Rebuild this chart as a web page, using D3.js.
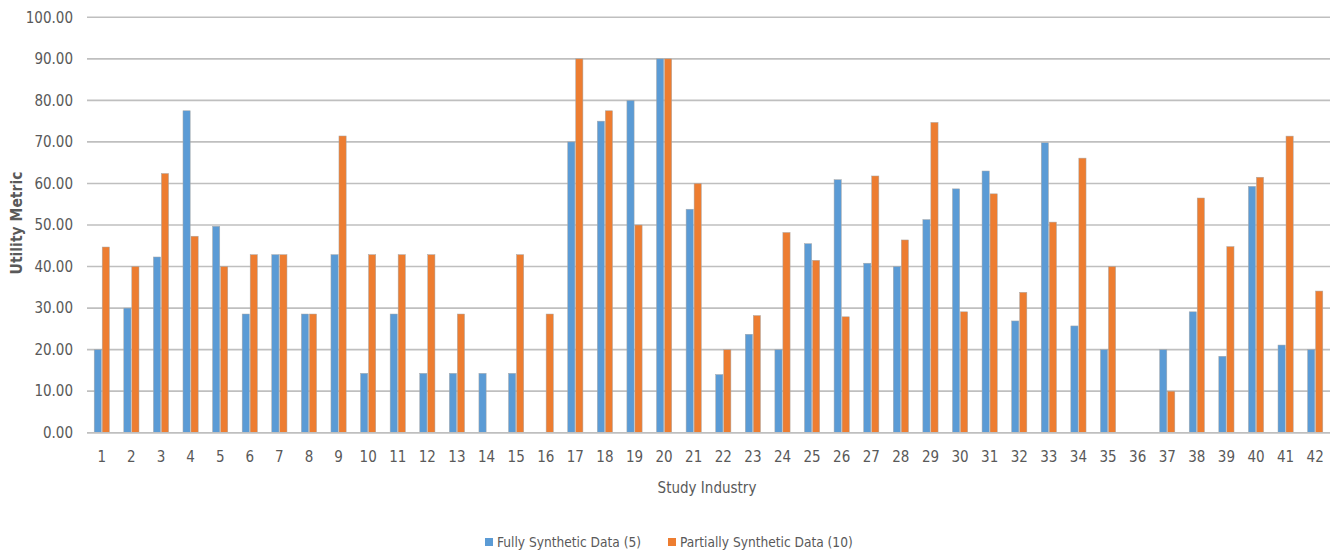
<!DOCTYPE html>
<html>
<head>
<meta charset="utf-8">
<script src="https://cdn.jsdelivr.net/npm/d3@7"></script>
<style>
  html, body { margin: 0; padding: 0; background: #fff; }
  svg { display: block; }
  text { font-family: "Liberation Sans Narrow", "DejaVu Sans Condensed", "Liberation Sans", sans-serif; fill: #595959; }
</style>
</head>
<body>
<svg id="chart" width="1336" height="552"></svg>
<script>
const categories = d3.range(1, 43).map(String);
const seriesNames = ["Fully Synthetic Data (5)", "Partially Synthetic Data (10)"];
const fullySynthetic = [20, 30, 42.3, 77.5, 49.7, 28.57, 42.86, 28.57, 42.86, 14.29,
  28.57, 14.29, 14.29, 14.29, 14.29, 0, 70, 75, 80, 90,
  53.8, 14, 23.7, 20, 45.5, 60.9, 40.8, 40, 51.3, 58.7,
  63, 26.9, 69.8, 25.7, 20, 0, 20, 29.1, 18.4, 59.3,
  21.1, 20];
const partiallySynthetic = [44.7, 40, 62.4, 47.3, 40, 42.86, 42.86, 28.57, 71.43, 42.86,
  42.86, 42.86, 28.57, 0, 42.86, 28.57, 90, 77.5, 50, 90,
  60, 20, 28.2, 48.2, 41.5, 27.9, 61.8, 46.4, 74.7, 29.1,
  57.5, 33.8, 50.7, 66.1, 40, 0, 10, 56.5, 44.8, 61.5,
  71.4, 34.1];
const yTicks = [0, 10, 20, 30, 40, 50, 60, 70, 80, 90, 100];
const colors = ["#5B9BD5", "#ED7D31"];

const svg = d3.select("#chart");
const mLeft = 87, mRight = 1330, mTop = 17.3, mBottom = 432.7;

const x = d3.scaleBand().domain(categories).range([mLeft, mRight]).padding(0);
const y = d3.scaleLinear().domain([0, 100]).range([mBottom, mTop]);
const xs = d3.scaleBand().domain([0, 1]).range([-7.6, 7.6]).paddingInner(0.1);

// gridlines
svg.append("g").selectAll("line").data(yTicks).join("line")
  .attr("x1", mLeft).attr("x2", mRight)
  .attr("y1", d => y(d)).attr("y2", d => y(d))
  .attr("stroke", "#BFBFBF").attr("stroke-width", 1.6);

// y labels
const yAxis = d3.axisLeft(y).tickValues(yTicks).tickFormat(d3.format(".2f")).tickSize(0).tickPadding(0);
const yg = svg.append("g").attr("transform", `translate(${73},0)`).call(yAxis);
yg.select(".domain").remove();
yg.selectAll("text").attr("font-size", 15).attr("fill", "#595959")
  .style("font-family", '"Liberation Sans Narrow", "DejaVu Sans Condensed", sans-serif');

// bars
const data = [fullySynthetic, partiallySynthetic];
data.forEach((vals, si) => {
  svg.append("g").selectAll("rect").data(vals).join("rect")
    .attr("x", (d, i) => x(categories[i]) + x.bandwidth() / 2 + xs(si))
    .attr("width", xs.bandwidth())
    .attr("y", d => y(d))
    .attr("height", d => y(0) - y(d))
    .attr("fill", colors[si])
    .attr("stroke", "#a8a8a8").attr("stroke-width", 0.5);
});

// baseline
svg.append("line").attr("x1", mLeft).attr("x2", mRight)
  .attr("y1", y(0)).attr("y2", y(0)).attr("stroke", "#BFBFBF").attr("stroke-width", 1.6);

// x labels
const xAxis = d3.axisBottom(x).tickSize(0).tickPadding(0);
const xg = svg.append("g").attr("transform", `translate(0,${451})`).call(xAxis);
xg.select(".domain").remove();
xg.selectAll("text").attr("font-size", 15).attr("fill", "#595959")
  .style("font-family", '"Liberation Sans Narrow", "DejaVu Sans Condensed", sans-serif');

// axis titles
svg.append("text").attr("x", 707).attr("y", 493).attr("text-anchor", "middle")
  .attr("font-size", 15).text("Study Industry");
svg.append("text").attr("transform", `translate(22,223) rotate(-90)`).attr("text-anchor", "middle")
  .attr("font-size", 15.5).attr("font-weight", "bold").text("Utility Metric");

// legend
const legendX = [485, 668];
seriesNames.forEach((name, i) => {
  svg.append("rect").attr("x", legendX[i]).attr("y", 538).attr("width", 8).attr("height", 8).attr("fill", colors[i]);
  svg.append("text").attr("x", legendX[i] + 12).attr("y", 547).attr("font-size", 13.6).text(name);
});
</script>
</body>
</html>
